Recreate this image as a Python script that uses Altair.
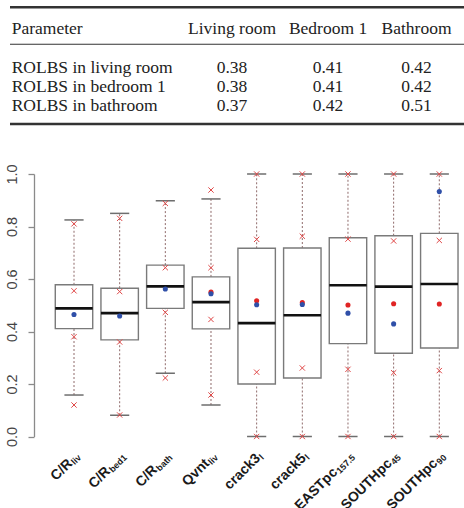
import altair as alt
import pandas as pd

# ---------------- table data ----------------
table_columns = ["Parameter", "Living room", "Bedroom 1", "Bathroom"]
table_rows = ["ROLBS in living room", "ROLBS in bedroom 1", "ROLBS in bathroom"]
living_room = [0.38, 0.38, 0.37]
bedroom_1 = [0.41, 0.41, 0.42]
bathroom = [0.42, 0.42, 0.51]

# ---------------- boxplot data ----------------
label_main = ["C/R", "C/R", "C/R", "Qvnt", "crack3", "crack5", "EASTpc", "SOUTHpc", "SOUTHpc"]
label_sub = ["liv", "bed1", "bath", "liv", "l", "l", "157.5", "45", "90"]
whisker_low = [0.158, 0.081, 0.241, 0.120, 0.0, 0.0, 0.0, 0.0, 0.0]
q1 = [0.411, 0.368, 0.488, 0.410, 0.200, 0.223, 0.354, 0.317, 0.337]
median = [0.488, 0.470, 0.572, 0.512, 0.432, 0.462, 0.576, 0.571, 0.581]
q3 = [0.578, 0.565, 0.653, 0.608, 0.717, 0.718, 0.757, 0.765, 0.774]
whisker_high = [0.825, 0.850, 0.898, 0.905, 1.0, 1.0, 1.0, 1.0, 1.0]
blue_point = [0.465, 0.459, 0.562, 0.544, 0.502, 0.503, 0.470, 0.429, 0.933]
red_point = [None, None, None, 0.550, 0.517, 0.510, 0.501, 0.506, 0.505]
red_cross = [
    [0.810, 0.555, 0.380, 0.120],
    [0.831, 0.552, 0.360, 0.082],
    [0.888, 0.643, 0.473, 0.223],
    [0.939, 0.643, 0.446, 0.158],
    [1.0, 0.751, 0.245, 0.0],
    [1.0, 0.763, 0.261, 0.0],
    [1.0, 0.752, 0.256, 0.0],
    [1.0, 0.745, 0.243, 0.0],
    [1.0, 0.747, 0.251, 0.0],
]

# ---------------- build tables ----------------
cells = []
for c, name in enumerate(table_columns):
    cells.append({"col": c, "row": 0, "text": name})
for r, name in enumerate(table_rows):
    cells.append({"col": 0, "row": r + 2, "text": name})
    cells.append({"col": 1, "row": r + 2, "text": f"{living_room[r]:.2f}"})
    cells.append({"col": 2, "row": r + 2, "text": f"{bedroom_1[r]:.2f}"})
    cells.append({"col": 3, "row": r + 2, "text": f"{bathroom[r]:.2f}"})
table_df = pd.DataFrame(cells)

n = len(label_main)
box_df = pd.DataFrame({
    "pos": list(range(1, n + 1)),
    "main": label_main, "sub": label_sub,
    "wlo": whisker_low, "q1": q1, "med": median, "q3": q3, "whi": whisker_high,
})
blue_df = pd.DataFrame({"pos": list(range(1, n + 1)), "v": blue_point})
red_df = pd.DataFrame({"pos": [i + 1 for i in range(n) if red_point[i] is not None],
                       "v": [v for v in red_point if v is not None]})
cross_df = pd.DataFrame([{"pos": i + 1, "v": v} for i in range(n) for v in red_cross[i]])

# ---------------- style ----------------
SERIF = "Liberation Serif"
SANS = "Liberation Sans"
xsc = alt.Scale(domain=[1, 9], range=[40, 405.3], nice=False, zero=False)
ysc = alt.Scale(domain=[0, 1], range=[436.5, 174], nice=False, zero=False)
tsc = alt.Scale(domain=[0, 4], range=[34.4, 111], nice=False, zero=False)
AX = "#8a8a8a"

layers = []

# table rules
rule_base = alt.Chart(pd.DataFrame({"k": [0]}))
for yy, w in [(7.3, 2.4), (44.3, 1.1), (124.0, 2.4)]:
    layers.append(rule_base.mark_rule(color="#333333", strokeWidth=w).encode(
        x=alt.value(-24), x2=alt.value(430), y=alt.value(yy)))

# table text
col_x = [-22.3, 198, 294, 382.5]
col_align = ["left", "center", "center", "center"]
for c in range(4):
    layers.append(
        alt.Chart(table_df).transform_filter(alt.datum.col == c)
        .mark_text(align=col_align[c], baseline="alphabetic", font=SERIF,
                   fontSize=17.5, color="#222222")
        .encode(x=alt.value(col_x[c]),
                y=alt.Y("row:Q", scale=tsc, axis=None),
                text="text:N"))

base = alt.Chart(box_df).transform_calculate(
    xl="datum.pos - 0.41", xr="datum.pos + 0.41",
    cl="datum.pos - 0.21", cr="datum.pos + 0.21",
    ax="datum.pos + 0.08")

# whiskers
WH = "#8f6a6a"
layers.append(base.mark_rule(color=WH, strokeWidth=1, strokeDash=[2, 2]).encode(
    x=alt.X("pos:Q", scale=xsc, axis=None),
    y=alt.Y("q3:Q", scale=ysc, axis=None), y2="whi:Q"))
layers.append(base.mark_rule(color=WH, strokeWidth=1, strokeDash=[2, 2]).encode(
    x=alt.X("pos:Q", scale=xsc, axis=None),
    y=alt.Y("wlo:Q", scale=ysc, axis=None), y2="q1:Q"))

# boxes (carry the axes)
layers.append(base.mark_rect(fill="white", stroke="#7a7a7a", strokeWidth=1.4).encode(
    x=alt.X("xl:Q", scale=xsc,
            axis=alt.Axis(values=list(range(1, 10)), labels=False, title=None, grid=False,
                          tickSize=6, tickColor=AX, domainColor=AX, domainWidth=1.3,
                          tickWidth=1.3)),
    x2="xr:Q",
    y=alt.Y("q1:Q", scale=ysc,
            axis=alt.Axis(values=[0, 0.2, 0.4, 0.6, 0.8, 1.0], format=".1f", title=None,
                          grid=False, tickSize=6, tickColor=AX, domainColor=AX,
                          domainWidth=1.3, tickWidth=1.3, labelAngle=270,
                          labelAlign="center", labelBaseline="bottom", labelPadding=9,
                          labelFont=SANS, labelFontSize=14.5, labelColor="#444444")),
    y2="q3:Q"))

# caps
for f in ["whi", "wlo"]:
    layers.append(base.mark_rule(color="#6e6e6e", strokeWidth=1.5).encode(
        x=alt.X("cl:Q", scale=xsc, axis=None), x2="cr:Q",
        y=alt.Y(f + ":Q", scale=ysc, axis=None)))

# medians
layers.append(base.mark_rule(color="#111111", strokeWidth=2.6).encode(
    x=alt.X("xl:Q", scale=xsc, axis=None), x2="xr:Q",
    y=alt.Y("med:Q", scale=ysc, axis=None)))

# red crosses
layers.append(alt.Chart(cross_df).mark_point(
    shape="M-1,-1L1,1M-1,1L1,-1", filled=False, color="#e04848", size=28,
    strokeWidth=1, opacity=1).encode(
    x=alt.X("pos:Q", scale=xsc, axis=None),
    y=alt.Y("v:Q", scale=ysc, axis=None)))

# red and blue dots
layers.append(alt.Chart(red_df).mark_circle(color="#e02424", size=26, opacity=1).encode(
    x=alt.X("pos:Q", scale=xsc, axis=None),
    y=alt.Y("v:Q", scale=ysc, axis=None)))
layers.append(alt.Chart(blue_df).mark_circle(color="#2f4fa8", size=26, opacity=1).encode(
    x=alt.X("pos:Q", scale=xsc, axis=None),
    y=alt.Y("v:Q", scale=ysc, axis=None)))

# x labels: main part + subscript, rotated 45 degrees
SUB_SIZE = 9
W = {"l": 278, "i": 278, "v": 556, "b": 611, "e": 556, "d": 611, "a": 556,
     "t": 333, "h": 611, ".": 278}
def sub_width(s):
    return sum(W.get(ch, 556) for ch in s) / 1000 * SUB_SIZE

for i in range(n):
    layers.append(base.transform_filter(alt.datum.pos == i + 1).mark_text(
        angle=315, align="right", baseline="middle", dx=-(sub_width(label_sub[i]) + 0.5),
        font=SANS, fontWeight="bold", fontSize=14, color="#1a1a1a").encode(
        x=alt.X("ax:Q", scale=xsc, axis=None), y=alt.value(454), text="main:N"))
layers.append(base.mark_text(
    angle=315, align="right", baseline="middle", dy=3,
    font=SANS, fontWeight="bold", fontSize=SUB_SIZE, color="#1a1a1a").encode(
    x=alt.X("ax:Q", scale=xsc, axis=None), y=alt.value(454), text="sub:N"))

chart = alt.layer(*layers).resolve_scale(y="independent").properties(
    width=430, height=447,
    padding={"left": 34, "top": 0, "right": 0, "bottom": 61},
    autosize=alt.AutoSizeParams(type="none"),
    background="white",
).configure_view(stroke=None)

chart.save("out.html", embed_options={"renderer": "svg", "actions": False})
